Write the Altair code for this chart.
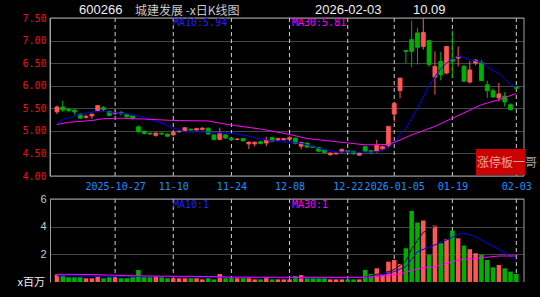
import altair as alt
import pandas as pd

# ---------------- data ----------------
idx = list(range(80))
opens = [5.42, 5.53, 5.48, 5.46, 5.37, 5.30, 5.33, 5.45, 5.52, 5.43,
         5.38, 5.41, 5.36, 5.33, 5.09, 4.99, 4.95, 4.90, 4.95, 4.93,
         4.91, 4.98, 5.00, 5.04, 5.02, 5.03, 5.06, 4.91, 4.81, 4.91,
         4.84, 4.81, 4.83, 4.71, 4.71, 4.76, 4.73, 4.85, 4.80, 4.80,
         4.81, 4.84, 4.66, 4.73, 4.66, 4.63, 4.58, 4.47, 4.49, 4.54,
         4.56, 4.55, 4.46, 4.65, 4.56, 4.54, 4.60, 4.68, 5.37, 5.89,
         6.78, 7.02, 7.17, 6.87, 7.00, 6.19, 6.54, 6.28, 6.59, 6.61,
         6.43, 6.08, 6.50, 6.52, 6.02, 5.89, 5.73, 5.77, 5.58, 5.98]
closes = [5.53, 5.46, 5.45, 5.42, 5.28, 5.32, 5.37, 5.56, 5.47, 5.34,
          5.41, 5.38, 5.31, 5.27, 4.98, 4.94, 4.93, 4.95, 4.93, 4.88,
          4.97, 4.99, 5.07, 5.02, 5.05, 5.06, 4.93, 4.81, 4.95, 4.84,
          4.80, 4.82, 4.78, 4.75, 4.75, 4.72, 4.80, 4.77, 4.83, 4.83,
          4.85, 4.72, 4.74, 4.64, 4.63, 4.55, 4.52, 4.51, 4.51, 4.59,
          4.53, 4.49, 4.51, 4.55, 4.53, 4.68, 4.65, 5.10, 5.61, 6.17,
          6.76, 6.76, 6.85, 7.18, 6.47, 6.43, 6.24, 6.87, 6.54, 6.65,
          6.10, 6.35, 6.57, 6.11, 5.89, 5.75, 5.82, 5.64, 5.47, 5.94]
highs = [5.56, 5.67, 5.50, 5.48, 5.39, 5.36, 5.39, 5.57, 5.55, 5.45,
         5.43, 5.44, 5.37, 5.34, 5.12, 5.01, 4.96, 4.97, 4.96, 4.94,
         4.99, 5.01, 5.08, 5.05, 5.07, 5.08, 5.07, 4.92, 5.07, 4.93,
         4.85, 4.84, 4.84, 4.77, 4.76, 4.78, 4.87, 4.87, 4.85, 4.84,
         4.88, 4.85, 4.76, 4.74, 4.67, 4.64, 4.59, 4.52, 4.52, 4.61,
         4.57, 4.56, 4.52, 4.67, 4.58, 4.80, 4.67, 5.10, 5.61, 6.17,
         6.78, 7.44, 7.28, 7.49, 7.01, 6.76, 6.75, 6.88, 7.22, 6.87,
         6.46, 6.55, 6.59, 6.57, 6.11, 5.94, 6.06, 5.86, 5.61, 5.99]
lows = [5.37, 5.42, 5.42, 5.36, 5.26, 5.27, 5.26, 5.43, 5.44, 5.32,
        5.35, 5.34, 5.29, 5.25, 4.96, 4.92, 4.91, 4.87, 4.91, 4.87,
        4.89, 4.96, 4.98, 5.00, 5.00, 5.01, 4.91, 4.79, 4.79, 4.82,
        4.78, 4.79, 4.76, 4.60, 4.65, 4.70, 4.66, 4.75, 4.78, 4.79,
        4.79, 4.70, 4.59, 4.62, 4.62, 4.53, 4.50, 4.45, 4.47, 4.50,
        4.52, 4.47, 4.45, 4.53, 4.48, 4.52, 4.58, 4.62, 5.20, 5.72,
        6.50, 6.41, 6.47, 6.80, 6.42, 5.80, 6.12, 6.25, 6.17, 6.43,
        6.08, 6.05, 6.45, 6.10, 5.73, 5.73, 5.65, 5.54, 5.45, 5.93]
volumes = [0.55, 0.50, 0.34, 0.34, 0.34, 0.27, 0.27, 0.40, 0.27, 0.34,
           0.34, 0.27, 0.27, 0.34, 0.87, 0.34, 0.34, 0.43, 0.34, 0.27,
           0.27, 0.27, 0.27, 0.27, 0.27, 0.19, 0.27, 0.19, 0.58, 0.27,
           0.27, 0.27, 0.27, 0.27, 0.19, 0.19, 0.37, 0.19, 0.19, 0.19,
           0.19, 0.43, 0.50, 0.27, 0.27, 0.27, 0.27, 0.19, 0.19, 0.19,
           0.19, 0.19, 0.19, 0.87, 0.58, 0.99, 0.58, 1.47, 1.59, 1.30,
           2.44, 5.14, 4.30, 4.45, 1.96, 4.08, 2.80, 3.09, 3.72, 3.16,
           2.63, 2.37, 2.08, 1.96, 1.59, 1.06, 1.23, 0.99, 0.75, 0.58]

ma10_idx = [0, 1, 3, 5, 6, 8, 10, 12, 13, 15, 16, 18, 20, 21, 22, 24, 26, 27, 29, 31,
            33, 34, 36, 37, 38, 40, 42, 43, 45, 47, 48, 50, 52, 53, 54, 55, 56, 57, 58, 59,
            60, 61, 62, 63, 64, 65, 66, 67, 68, 69, 70, 71, 72, 73, 74, 75, 76, 77, 78, 79]
ma10_val = [5.16, 5.25, 5.33, 5.39, 5.42, 5.43, 5.40, 5.38, 5.35, 5.30, 5.25, 5.17, 5.06, 5.02, 4.98, 4.98, 4.97, 4.96, 4.95, 4.93,
            4.88, 4.84, 4.80, 4.78, 4.76, 4.75, 4.72, 4.69, 4.61, 4.56, 4.53, 4.53, 4.53, 4.53, 4.53, 4.54, 4.57, 4.63, 4.72, 4.93,
            5.05, 5.28, 5.50, 5.75, 6.00, 6.20, 6.38, 6.50, 6.60, 6.65, 6.63, 6.57, 6.55, 6.52, 6.42, 6.33, 6.27, 6.15, 6.03, 5.96]
ma30_idx = [0, 2, 6, 8, 11, 15, 20, 26, 28, 31, 35, 38, 40, 43, 48, 53, 57, 59, 61, 65, 70, 73, 76, 79]
ma30_val = [5.14, 5.19, 5.23, 5.27, 5.28, 5.26, 5.23, 5.22, 5.17, 5.11, 5.04, 4.97, 4.92, 4.83, 4.76, 4.69, 4.70, 4.80, 4.91, 5.10, 5.40, 5.58, 5.69, 5.83]

vma10_idx = [0, 7, 14, 20, 30, 40, 50, 53, 55, 58, 60, 62, 65, 67, 69, 70, 71, 72, 74, 76, 78, 79]
vma10_val = [0.45, 0.42, 0.40, 0.38, 0.33, 0.30, 0.30, 0.34, 0.43, 0.75, 1.11, 2.20, 2.68, 3.04, 3.45, 3.52, 3.42, 3.25, 2.80, 2.37, 1.83, 1.52]
vma30_idx = [0, 6, 12, 18, 25, 30, 40, 53, 56, 59, 62, 65, 67, 69, 72, 74, 76, 79]
vma30_val = [0.56, 0.54, 0.46, 0.42, 0.40, 0.35, 0.34, 0.34, 0.45, 0.58, 0.95, 1.11, 1.35, 1.59, 1.71, 1.80, 1.88, 1.88]
vma5_idx = [52, 54, 55, 56, 57, 58, 59, 60, 61, 62, 63, 64, 65, 66]
vma5_val = [0.25, 0.45, 0.55, 0.65, 0.75, 0.90, 1.20, 1.50, 2.40, 3.00, 3.60, 3.75, 4.05, 4.00]

tick_idx = [10, 20, 30, 40, 50, 58, 68, 79]
tick_lab = ["2025-10-27", "11-10", "11-24", "12-08", "12-22", "2026-01-05", "01-19", "02-03"]
price_ticks = [4.0, 4.5, 5.0, 5.5, 6.0, 6.5, 7.0, 7.5]
vol_ticks = [2, 4, 6]

# ---------------- frames ----------------
df = pd.DataFrame({"i": idx, "open": opens, "close": closes, "high": highs,
                   "low": lows, "vol": volumes})
ma10_df = pd.DataFrame({"i": ma10_idx, "v": ma10_val})
ma30_df = pd.DataFrame({"i": ma30_idx, "v": ma30_val})
vma10_df = pd.DataFrame({"i": vma10_idx, "v": vma10_val})
vma30_df = pd.DataFrame({"i": vma30_idx, "v": vma30_val})
vma5_df = pd.DataFrame({"i": vma5_idx, "v": vma5_val})
ticks_df = pd.DataFrame({"i": tick_idx})
one = pd.DataFrame({"a": [0]})

W, H = 474, 264
PH = 158
VTOP, VBOT = 181, 264
RED = "#ff5555"
GREEN = "#00b000"
GRIDC = "#8a8a8a"
BORDER = "#a0a0a0"
MONO = "DejaVu Sans Mono"

lab_expr = ""
for t, l in zip(tick_idx, tick_lab):
    lab_expr += f"datum.value == {t} ? '{l}' : "
lab_expr += "''"

xscale = alt.Scale(domain=[-0.34, 79.46], nice=False, zero=False)
xaxis = alt.Axis(values=tick_idx, labelExpr=lab_expr, grid=False, ticks=False, domain=False,
                 labelColor="#1e90ff", labelFont=MONO, labelFontSize=10, labelPadding=5,
                 offset=-(H - PH), labelFlush=False, labelOverlap=False, title=None)
X = alt.X("i:Q", scale=xscale, axis=xaxis)

pscale = alt.Scale(domain=[4.0, 7.5], range=[PH, 0], nice=False, zero=False)
paxis = alt.Axis(orient="left", values=price_ticks, format=".2f", labelColor="#ee1111",
                 labelFont=MONO, labelFontSize=10, labelPadding=4, ticks=False,
                 domain=True, domainColor=BORDER, grid=True, gridColor=GRIDC,
                 gridDash=[1, 1], labelFlush=False, labelOverlap=False, title=None)
vscale = alt.Scale(domain=[0, 6], range=[VBOT, VTOP], nice=False, zero=True)
vaxis = alt.Axis(orient="left", values=vol_ticks, format="d", labelColor="#c8c8c8",
                 labelFont="Liberation Sans", labelFontSize=11, labelPadding=4, ticks=False,
                 domain=True, domainColor=BORDER, grid=True, gridColor=GRIDC,
                 gridDash=[1, 1], labelFlush=False, labelOverlap=False, title=None)

updown = alt.condition("datum.close >= datum.open", alt.value(RED), alt.value(GREEN))

# ---------------- price panel ----------------
p_vgrid = alt.Chart(ticks_df).mark_rule(color="#d0d0d0", strokeWidth=1, strokeDash=[4, 3]).encode(
    x=X, y=alt.Y(datum=7.5, scale=pscale, axis=paxis), y2=alt.datum(4.0))
p_frame = alt.Chart(one).mark_rect(fillOpacity=0, stroke=BORDER, strokeWidth=1).encode(
    x=alt.value(0), x2=alt.value(W), y=alt.Y(datum=7.5, scale=pscale, axis=paxis), y2=alt.datum(4.0))
wick = alt.Chart(df).mark_rule(strokeWidth=1).encode(
    x=X, y=alt.Y("low:Q", scale=pscale, axis=paxis), y2="high:Q", color=updown)
body = alt.Chart(df).mark_bar(size=4, strokeWidth=0.8).encode(
    x=X, y=alt.Y("open:Q", scale=pscale, axis=paxis), y2="close:Q", color=updown, stroke=updown)
ma10 = alt.Chart(ma10_df).mark_line(color="#0000ff", strokeWidth=1).encode(
    x=X, y=alt.Y("v:Q", scale=pscale, axis=paxis))
ma30 = alt.Chart(ma30_df).mark_line(color="#ff00ff", strokeWidth=1).encode(
    x=X, y=alt.Y("v:Q", scale=pscale, axis=paxis))


def label(txt, x, y, color, font=MONO, size=10, align="left", opacity=1.0, baseline="middle"):
    return alt.Chart(one).mark_text(text=txt, align=align, baseline=baseline, font=font,
                                    fontSize=size, color=color, opacity=opacity).encode(
        x=alt.value(x), y=alt.value(y))


stamp_box = alt.Chart(one).mark_rect(color="#cc0000").encode(
    x=alt.value(426), x2=alt.value(475), y=alt.value(131), y2=alt.value(157))

price = alt.layer(
    p_vgrid, wick, body, ma10, ma30, p_frame,
    label("MA10:5.94", 123, 5, "#2020ff"),
    label("MA30:5.81", 242, 5, "#ff00ff"),
    label("600266", 29, -4, "#f0f0f0", font="Liberation Sans", size=13, baseline="alphabetic"),
    label("城建发展 -x日K线图", 85, -3.5, "#c8c8c8", font="Noto Sans CJK SC", size=12, baseline="alphabetic"),
    label("2026-02-03", 265, -4, "#f0f0f0", font="Liberation Sans", size=13, baseline="alphabetic"),
    label("10.09", 363, -4, "#f0f0f0", font="Liberation Sans", size=13, baseline="alphabetic"),
    stamp_box,
    label("涨停板一哥", 427, 145, "#ffffff", font="Noto Sans CJK SC", size=12, opacity=0.62),
)

# ---------------- volume panel ----------------
v_vgrid = alt.Chart(ticks_df).mark_rule(color="#d0d0d0", strokeWidth=1, strokeDash=[4, 3]).encode(
    x=X, y=alt.Y(datum=6, scale=vscale, axis=vaxis), y2=alt.datum(0))
vbars = alt.Chart(df).mark_bar(size=4.5).encode(
    x=X, y=alt.Y("vol:Q", scale=vscale, axis=vaxis), y2=alt.datum(0), color=updown)
v_top = alt.Chart(one).mark_rule(color=BORDER, strokeWidth=1).encode(
    x=alt.value(0), x2=alt.value(W), y=alt.Y(datum=6, scale=vscale, axis=vaxis))
v_right = alt.Chart(one).mark_rule(color=BORDER, strokeWidth=1).encode(
    x=alt.value(W), y=alt.Y(datum=6, scale=vscale, axis=vaxis), y2=alt.datum(0))
vma5 = alt.Chart(vma5_df).mark_line(color="#111111", strokeWidth=1).encode(
    x=X, y=alt.Y("v:Q", scale=vscale, axis=vaxis))
vma10 = alt.Chart(vma10_df).mark_line(color="#0000ff", strokeWidth=1).encode(
    x=X, y=alt.Y("v:Q", scale=vscale, axis=vaxis))
vma30 = alt.Chart(vma30_df).mark_line(color="#ff00ff", strokeWidth=1).encode(
    x=X, y=alt.Y("v:Q", scale=vscale, axis=vaxis))

volume = alt.layer(
    v_vgrid, vbars, vma5, vma10, vma30, v_top, v_right,
    label("MA10:1", 123, 187, "#2020ff"),
    label("MA30:1", 242, 187, "#ff00ff"),
    label("x百万", -5, 265, "#f0f0f0", font="Noto Sans CJK SC", size=11, align="right"),
)

chart = alt.layer(price, volume).resolve_scale(y="independent").properties(
    width=W, height=H, background="black",
    padding={"left": 50, "top": 18, "right": 16, "bottom": 15},
    autosize=alt.AutoSizeParams(type="none"),
).configure_view(stroke=None)

chart.save("out.html", embed_options={"renderer": "svg", "actions": False})
